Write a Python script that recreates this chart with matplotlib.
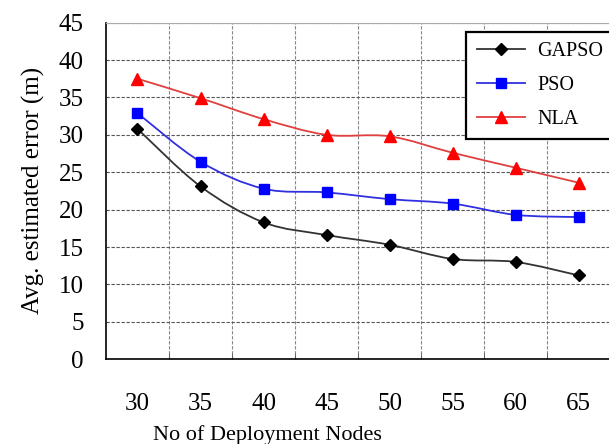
#!/usr/bin/env python3

import matplotlib

matplotlib.use("Agg")

import matplotlib.pyplot as plt
import numpy as np
from matplotlib.lines import Line2D
from matplotlib.patches import PathPatch
from matplotlib.path import Path


OUTPUT_FILENAME = "out.png"

node_counts = ["30", "35", "40", "45", "50", "55", "60", "65"]
gapso_error = [30.8, 23.1, 18.3, 16.6, 15.3, 13.4, 13.0, 11.2]
pso_error = [32.9, 26.4, 22.8, 22.3, 21.4, 20.8, 19.3, 19.0]
nla_error = [37.5, 34.9, 32.1, 30.0, 29.8, 27.6, 25.6, 23.6]
y_ticks = [0, 5, 10, 15, 20, 25, 30, 35, 40, 45]


def smooth_path(xs, ys, tension=1 / 6):
    """Catmull-Rom style Bezier path through the points (like Excel smoothing)."""

    pts = np.column_stack([xs, ys]).astype(float)
    verts = [pts[0]]
    codes = [Path.MOVETO]
    for i in range(len(pts) - 1):
        p0 = pts[max(i - 1, 0)]
        p1 = pts[i]
        p2 = pts[i + 1]
        p3 = pts[min(i + 2, len(pts) - 1)]
        c1 = p1 + (p2 - p0) * tension
        c2 = p2 - (p3 - p1) * tension
        verts += [c1, c2, p2]
        codes += [Path.CURVE4] * 3
    return Path(verts, codes)


def main() -> int:
    plt.rcParams["font.family"] = ["Liberation Serif", "DejaVu Serif"]

    fig = plt.figure(figsize=(6.09, 4.44), dpi=100)
    ax = fig.add_axes([0.174, 0.191, 0.828, 0.758])

    x = np.arange(len(node_counts))
    series = [
        ("GAPSO", gapso_error, "black", "#333333", "D", 6.5),
        ("PSO", pso_error, "#0000ff", "#3030e0", "s", 7.0),
        ("NLA", nla_error, "#ff0000", "#e04040", "^", 8.0),
    ]

    handles = []
    for name, values, mcolor, lcolor, marker, msize in series:
        patch = PathPatch(
            smooth_path(x, values),
            facecolor="none",
            edgecolor=lcolor,
            linewidth=1.3,
            zorder=3,
        )
        ax.add_patch(patch)
        ax.plot(
            x, values,
            linestyle="none",
            marker=marker,
            markersize=msize,
            color=mcolor,
            zorder=4,
        )
        handles.append(
            Line2D([0], [0], color=lcolor, linewidth=1.3, marker=marker,
                   markersize=msize, markerfacecolor=mcolor,
                   markeredgecolor=mcolor, label=name)
        )

    ax.set_xlim(-0.5, len(node_counts) - 0.5)
    ax.set_ylim(0, 45)
    ax.set_xticks(x)
    ax.set_xticklabels(node_counts)
    ax.set_xticks(x[:-1] + 0.5, minor=True)
    ax.set_yticks(y_ticks)

    ax.tick_params(axis="x", which="major", length=0, pad=24, labelsize=18)
    ax.tick_params(axis="x", which="minor", length=4, direction="in",
                   color="#555555")
    ax.tick_params(axis="y", length=0, pad=16, labelsize=18)

    ax.grid(True, axis="y", which="major", linestyle=(0, (3, 1.5)),
            color="#555555", linewidth=0.8)
    ax.grid(True, axis="x", which="minor", linestyle=(0, (3, 1.5)),
            color="#888888", linewidth=0.8)
    ax.set_axisbelow(True)

    for side in ("left", "bottom"):
        ax.spines[side].set_color("black")
        ax.spines[side].set_linewidth(1.2)
    ax.spines["top"].set_color("#aaaaaa")
    ax.spines["top"].set_linewidth(0.8)
    ax.spines["right"].set_visible(False)

    ax.set_ylabel("Avg. estimated error (m)", fontsize=18, labelpad=10)
    ax.set_xlabel("No of Deployment Nodes", fontsize=16)
    # the reference puts the axis title left of the plot centre
    ax.xaxis.set_label_coords(0.32, -0.195)

    legend = ax.legend(
        handles=handles,
        loc="upper left",
        bbox_to_anchor=(0.695, 1.003),
        fontsize=14.5,
        frameon=True,
        fancybox=False,
        handlelength=2.4,
        handletextpad=0.6,
        labelspacing=0.75,
        borderpad=0.5,
    )
    frame = legend.get_frame()
    frame.set_edgecolor("black")
    frame.set_linewidth(1.6)
    frame.set_alpha(1)

    fig.savefig(OUTPUT_FILENAME, dpi=100)
    plt.close(fig)
    return 0


if __name__ == "__main__":
    raise SystemExit(main())
